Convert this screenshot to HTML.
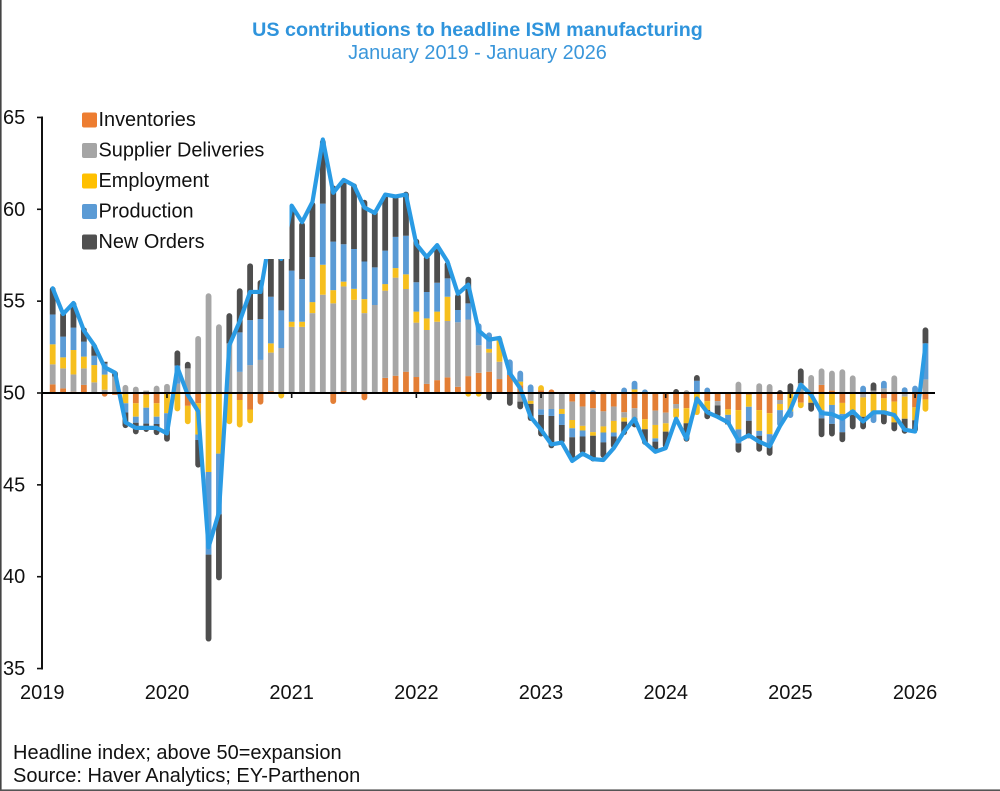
<!DOCTYPE html>
<html lang="en">
<head>
<meta charset="utf-8">
<title>US contributions to headline ISM manufacturing</title>
<style>
html,body{margin:0;padding:0;background:#fff;}
#chart{display:block;width:1000px;height:791px;}
text{font-family:"Liberation Sans",Arial,sans-serif;fill:#111;}
</style>
</head>
<body>
<svg id="chart" xmlns="http://www.w3.org/2000/svg" width="1000" height="791" viewBox="0 0 1000 791">
  <rect x="0" y="0" width="1000" height="791" fill="#ffffff"/>
  <rect x="0" y="0" width="1.6" height="791" fill="#444444"/>
  <rect x="0" y="789.4" width="1000" height="1.6" fill="#555555"/>
  <text x="477.5" y="36" text-anchor="middle" font-size="19.7" font-weight="bold" style="fill:#2F94DC">US contributions to headline ISM manufacturing</text>
  <text x="477.5" y="59" text-anchor="middle" font-size="19.9" style="fill:#3A96DA">January 2019 - January 2026</text>
  <g id="bars"></g>
  <g id="headline"></g>
  <rect x="70" y="105" width="219.5" height="154" fill="#ffffff"/>
  <g id="axes"></g>
  <g id="legend"></g>
  <text x="13" y="759" font-size="20">Headline index; above 50=expansion</text>
  <text x="13" y="782" font-size="20">Source: Haver Analytics; EY-Parthenon</text>
</svg>
<script>
const yearLabels = ["2019","2020","2021","2022","2023","2024","2025","2026"];
const yTickLabels = [35,40,45,50,55,60,65];
const seriesNames = ["Inventories","Supplier Deliveries","Employment","Production","New Orders"];

const inventories = [
 .47,.25,.07,.44,.05,-.2,-.1,0,-.56,-.1,
 -.56,0,0,-.7,-.56,0,0,0,-.38,-.9,
 -.63,.1,0,.05,.05,.05,.05,-.6,.1,.05,
 -.4,0,.82,.94,1.16,.87,.5,.7,.85,.34,
 .92,1.1,1.16,.76,.98,.42,0,.15,.2,0,
 -.47,-.74,-.83,-1,-.74,-1.05,-.83,-1.43,-.96,-1.07,
 -.6,-.83,0,-.44,-.44,-.89,-.93,-.1,-.93,-1.1,
 -.38,0,-.53,0,.44,.13,-.54,0,0,0,
 -.29,-.47,0,-.78,-.35];
const supplierDeliveries = [
 1.09,1.09,.94,.9,.53,.18,.9,.44,.35,.13,
 .4,.5,.5,1.34,3.1,5.43,3.74,2.7,1.15,1.52,
 1.8,2.1,2.45,3.55,3.55,4.3,5.3,4.88,5.7,5.02,
 4.35,4.79,4.75,5.34,4.5,2.96,2.93,3.18,3.07,3.51,
 3.08,1.5,1.04,.94,0,-.47,-.43,-.89,-.87,-.87,
 -1,-1.05,-1.3,-.82,-.78,-.29,-.55,0,-.78,-.58,
 -.25,.16,0,0,-.24,0,.62,0,.53,.49,
 -.22,0,.53,.98,.9,1.09,1.29,.96,-.24,.13,
 .25,.96,-.2,0,.74];
const employment = [
 1.09,.6,1.33,.64,.94,.82,0,-.56,-.73,-.7,
 -.73,-1.1,-1,-1,-1.7,-4.3,-3.3,-1.7,-1.5,-.75,
 0,.5,-.3,.28,.28,.6,1.63,.72,.26,.6,
 .76,0,.36,.52,.8,.6,.63,.55,1.32,0,
 -.2,-.2,.2,1.37,0,.2,-.16,.28,0,-.27,
 -.45,-.25,-.2,-.33,-.63,-.22,.2,-.54,-.73,-.45,
 -.55,-.82,-1.2,-.49,0,-.3,-1.05,-.65,-1.13,-1.14,
 -.33,-1,-.3,-.53,-.93,-.65,-.6,-.93,-1.05,-1.1,
 -.73,-1.13,-1.2,-.7,-.67];
const production = [
 1.62,1.13,1.22,.82,.51,.6,0,-.5,-.33,-.87,
 -.4,-.95,1,0,-.3,-4.5,-3.3,0,2.15,2.45,
 2.23,2.54,2.05,2.78,2.32,2.45,3.33,2.64,2.04,2.17,
 2.05,2.05,1.82,1.7,2.1,1.6,1.44,1.57,1,.67,
 .88,1.2,.9,0,.85,.6,.47,-.3,-.38,-.6,
 -.49,-.33,.16,-.54,-.22,.3,.47,.2,-.18,0,
 0,0,.67,.3,0,-.42,-.76,-.76,-.27,-.58,
 -.9,-.36,0,0,-.45,-1.03,-1,-.27,.4,-.54,
 .42,0,.31,.4,1.96];
const newOrders = [
 1.52,1.36,1.42,.78,.64,.1,.3,-.85,-.63,-.45,
 -.6,-.6,.82,.36,-1.5,-4.73,-3.6,1.65,2.4,3.09,
 2.12,4,3,3.57,3.1,3,3.5,3.06,3.5,3.57,
 3.36,3.12,3.03,2.28,2.4,2.37,2,2.05,.91,.88,
 1.45,0,-.4,0,-.7,-.42,-.93,-1.18,-1.76,-1,
 -1.32,-.94,-1.4,-.85,-.63,-.73,-.49,-.85,-.54,-.9,
 .22,-1,.31,-.5,-.65,-.1,-.51,-.96,-.87,-.6,
 .16,.53,.81,-.49,-1.03,-.69,-.54,-.78,-.69,.45,
 -.69,-.49,-.82,-.65,.87];
const headlineIndex = [
 55.7,54.3,54.9,53.4,52.6,51.4,51.1,48.4,48.1,48.1,
 48.1,47.8,51.4,49.9,49,41.6,43.5,52.6,53.9,55.5,
 55.5,58.8,57.3,60.2,59.3,60.4,63.8,60.9,61.6,61.3,
 60.1,59.8,60.8,60.7,60.8,58.1,57.4,58.05,57.15,55.4,
 55.9,53.4,52.9,53,51.07,50.25,48.7,48,47.2,47.3,
 46.3,46.7,46.4,46.35,47,47.9,48.6,47.3,46.8,47,
 48.6,47.5,49.7,48.95,48.7,48.4,47.4,47.7,47.35,47.1,
 48.2,49.1,50.45,49.9,48.9,48.85,48.6,49,48.45,48.95,
 48.95,48.8,48,47.9,52.6];

const NS = "http://www.w3.org/2000/svg";
const seriesValues = [inventories, supplierDeliveries, employment, production, newOrders];
const seriesColors = ["#E37E35","#A6A6A6","#F6BF1E","#5B9BD5","#4E4E4E"];
const legendColors = ["#ED7D31","#A5A5A5","#FFC000","#5B9BD5","#505050"];

const xForIndex = i => 52.7 + 10.39 * i;
const yForValue = v => 393 - (v - 50) * 18.37;
const xForYear = k => xForIndex(12 * k - 1);

function mk(tag, attrs, parent) {
  const el = document.createElementNS(NS, tag);
  for (const k in attrs) el.setAttribute(k, attrs[k]);
  parent.appendChild(el);
  return el;
}

const barWidth = 5.8;
function segmentPath(x, yBase, yEnd, rounded) {
  const h = Math.abs(yEnd - yBase), l = x - barWidth / 2, rr = x + barWidth / 2, r = barWidth / 2;
  if (!rounded || h < r) return `M${l} ${yBase}L${l} ${yEnd}L${rr} ${yEnd}L${rr} ${yBase}Z`;
  const up = yEnd < yBase;
  const yc = up ? yEnd + r : yEnd - r;
  return `M${l} ${yBase}L${l} ${yc}A${r} ${r} 0 0 ${up ? 1 : 0} ${rr} ${yc}L${rr} ${yBase}Z`;
}

const barsGroup = document.getElementById("bars");
for (let i = 0; i < headlineIndex.length; i++) {
  for (const sign of [1, -1]) {
    let last = -1;
    seriesValues.forEach((vals, s) => { if (vals[i] * sign > 0) last = s; });
    let cum = 50;
    seriesValues.forEach((vals, s) => {
      const v = vals[i];
      if (v * sign <= 0) return;
      const next = cum + v;
      const p = document.createElementNS(NS, "path");
      p.setAttribute("d", segmentPath(xForIndex(i), yForValue(cum), yForValue(next), s === last));
      p.setAttribute("fill", seriesColors[s]);
      
      
      barsGroup.appendChild(p);
      cum = next;
    });
  }
}

const headlineGroup = document.getElementById("headline");
const headlineLine = document.createElementNS(NS, "polyline");
headlineLine.setAttribute("points", headlineIndex.map((v, i) => xForIndex(i).toFixed(2) + "," + yForValue(v).toFixed(2)).join(" "));
headlineLine.setAttribute("fill", "none");
headlineLine.setAttribute("stroke", "#2A9BE4");
headlineLine.setAttribute("stroke-width", "4.2");
headlineLine.setAttribute("stroke-linejoin", "round");
headlineLine.setAttribute("stroke-linecap", "round");


headlineGroup.appendChild(headlineLine);

const axes = document.getElementById("axes");
const yAxisLine = mk("line", {x1: 42, x2: 42, y1: yForValue(65) - 1, y2: yForValue(35) + 1, stroke: "#111", "stroke-width": 2}, axes);


const baseline = mk("line", {x1: 42, x2: 935, y1: yForValue(50), y2: yForValue(50), stroke: "#000", "stroke-width": 2}, axes);



yTickLabels.forEach(v => {
  const t = mk("line", {x1: 37, x2: 42, y1: yForValue(v), y2: yForValue(v), stroke: "#111", "stroke-width": 1.6}, axes);
  
  
  const lab = mk("text", {x: 3, y: yForValue(v) + 6.5, "font-size": 20}, axes);
  lab.textContent = String(v);
  
  
});

yearLabels.forEach((yr, k) => {
  const x = xForYear(k);
  if (k > 0) {
    const t = mk("line", {x1: x, x2: x, y1: 393, y2: 398, stroke: "#111", "stroke-width": 1.6}, axes);
    
    
  }
  const lab = mk("text", {x: x, y: 699, "font-size": 20, "text-anchor": "middle"}, axes);
  lab.textContent = yr;
  
  
});

const legend = document.getElementById("legend");
seriesNames.forEach((name, s) => {
  const rowY = 112.5 + s * 30.5;
  const sw = mk("rect", {x: 82, y: rowY, width: 15, height: 15, rx: 2, fill: legendColors[s]}, legend);
  
  
  const lab = mk("text", {x: 98.5, y: rowY + 13.5, "font-size": 19.9}, legend);
  lab.textContent = name;
  
  
});
</script>
</body>
</html>
